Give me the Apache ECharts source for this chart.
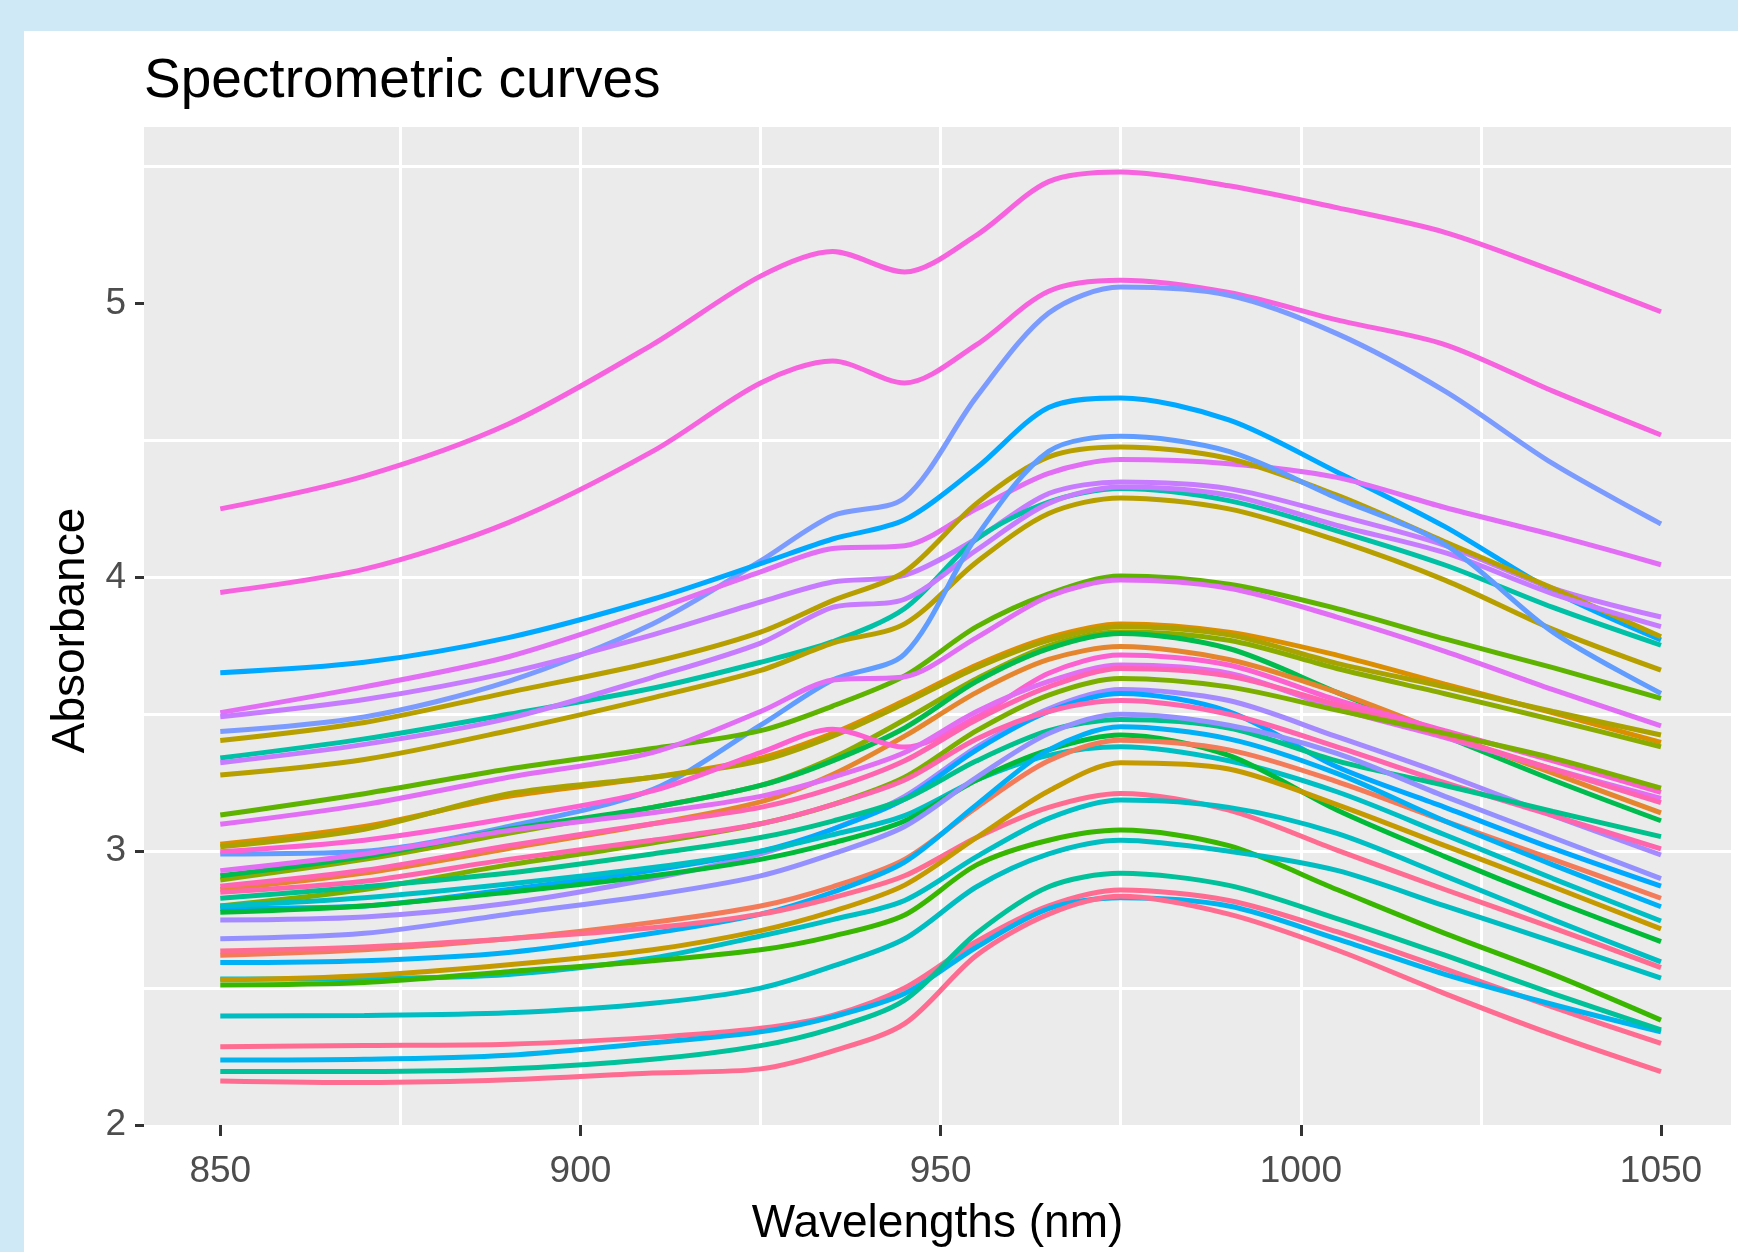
<!DOCTYPE html>
<html>
<head>
<meta charset="utf-8">
<title>Spectrometric curves</title>
<script src="https://cdn.jsdelivr.net/npm/echarts@6.0.0/dist/echarts.min.js"></script>
<style>
  html, body { margin: 0; padding: 0; }
  body { width: 1738px; height: 1252px; background: #cfe9f7; position: relative; overflow: hidden; }
  #chart { position: absolute; left: 24px; top: 31px; width: 1714px; height: 1221px; background: #fff; }
</style>
</head>
<body>
<div id="chart"></div>
<script>
const wavelengths = [850, 870, 890, 910, 925, 935, 945, 955, 965, 975, 990, 1005, 1020, 1035, 1050];
const xTicks = [850, 900, 950, 1000, 1050];
const yTicks = [2, 3, 4, 5];

// absorbance curves, top of the bundle first
const spec01 = [4.25, 4.37, 4.56, 4.85, 5.10, 5.19, 5.115, 5.25, 5.445, 5.48, 5.43, 5.35, 5.26, 5.12, 4.97];
const spec02 = [3.945, 4.03, 4.20, 4.46, 4.71, 4.79, 4.71, 4.85, 5.045, 5.085, 5.04, 4.94, 4.85, 4.68, 4.52];
const spec03 = [3.437, 3.49, 3.62, 3.83, 4.06, 4.225, 4.29, 4.66, 4.965, 5.06, 5.03, 4.89, 4.68, 4.415, 4.195];
const spec04 = [3.652, 3.69, 3.78, 3.92, 4.05, 4.14, 4.21, 4.40, 4.62, 4.655, 4.575, 4.385, 4.185, 3.95, 3.771];
const spec05 = [3.506, 3.60, 3.71, 3.88, 4.02, 4.105, 4.115, 4.25, 4.38, 4.43, 4.415, 4.365, 4.255, 4.155, 4.046];
const spec06 = [3.491, 3.554, 3.652, 3.79, 3.91, 3.983, 4.007, 4.141, 4.306, 4.348, 4.324, 4.227, 4.117, 3.96, 3.855];
const spec07 = [3.404, 3.47, 3.58, 3.69, 3.80, 3.915, 4.02, 4.27, 4.44, 4.476, 4.434, 4.30, 4.13, 3.96, 3.783];
const spec08 = [3.34, 3.41, 3.50, 3.595, 3.69, 3.765, 3.886, 4.14, 4.275, 4.324, 4.28, 4.17, 4.045, 3.89, 3.752];
const spec09 = [3.278, 3.335, 3.44, 3.56, 3.66, 3.76, 3.83, 4.056, 4.233, 4.29, 4.25, 4.135, 3.99, 3.81, 3.661];
const spec10 = [3.323, 3.39, 3.485, 3.635, 3.76, 3.89, 3.92, 4.10, 4.27, 4.33, 4.30, 4.19, 4.09, 3.94, 3.82];
const spec11 = [2.99, 3.0, 3.09, 3.225, 3.46, 3.625, 3.72, 4.15, 4.46, 4.515, 4.46, 4.29, 4.12, 3.80, 3.576];
const spec12 = [3.132, 3.21, 3.30, 3.375, 3.44, 3.53, 3.64, 3.82, 3.94, 4.005, 3.975, 3.886, 3.775, 3.67, 3.558];
const spec13 = [3.098, 3.17, 3.27, 3.36, 3.51, 3.625, 3.637, 3.78, 3.93, 3.99, 3.96, 3.855, 3.73, 3.59, 3.458];
const spec14 = [3.025, 3.09, 3.20, 3.27, 3.34, 3.43, 3.55, 3.68, 3.78, 3.83, 3.80, 3.716, 3.61, 3.505, 3.397];
const spec15 = [3.016, 3.08, 3.21, 3.27, 3.33, 3.42, 3.54, 3.67, 3.77, 3.82, 3.79, 3.686, 3.60, 3.51, 3.424];
const spec16 = [2.895, 2.97, 3.065, 3.16, 3.24, 3.34, 3.48, 3.63, 3.75, 3.80, 3.77, 3.667, 3.575, 3.48, 3.381];
const spec17 = [2.91, 2.98, 3.08, 3.16, 3.24, 3.33, 3.45, 3.62, 3.74, 3.795, 3.74, 3.58, 3.42, 3.26, 3.111];
const spec18 = [2.86, 2.92, 3.01, 3.10, 3.18, 3.28, 3.42, 3.58, 3.70, 3.747, 3.70, 3.58, 3.43, 3.285, 3.14];
const spec19 = [2.998, 3.04, 3.12, 3.22, 3.36, 3.445, 3.38, 3.49, 3.65, 3.716, 3.68, 3.552, 3.44, 3.33, 3.215];
const spec20 = [2.929, 2.99, 3.075, 3.14, 3.20, 3.27, 3.36, 3.51, 3.62, 3.68, 3.65, 3.521, 3.415, 3.30, 3.193];
const spec21 = [2.872, 2.93, 3.02, 3.10, 3.16, 3.23, 3.33, 3.48, 3.60, 3.667, 3.64, 3.535, 3.42, 3.30, 3.177];
const spec22 = [2.80, 2.86, 2.95, 3.03, 3.10, 3.17, 3.27, 3.44, 3.57, 3.631, 3.60, 3.515, 3.43, 3.34, 3.23];
const spec23 = [2.749, 2.76, 2.81, 2.90, 2.99, 3.08, 3.20, 3.38, 3.52, 3.59, 3.55, 3.418, 3.28, 3.13, 2.986];
const spec24 = [2.791, 2.80, 2.86, 2.93, 3.00, 3.08, 3.19, 3.37, 3.51, 3.576, 3.51, 3.308, 3.16, 3.01, 2.872];
const spec25 = [2.85, 2.89, 2.97, 3.04, 3.10, 3.17, 3.26, 3.41, 3.51, 3.55, 3.50, 3.381, 3.25, 3.13, 3.008];
const spec26 = [2.828, 2.87, 2.92, 2.99, 3.05, 3.11, 3.19, 3.33, 3.44, 3.481, 3.45, 3.33, 3.24, 3.145, 3.053];
const spec27 = [2.80, 2.83, 2.88, 2.94, 3.00, 3.06, 3.13, 3.26, 3.35, 3.381, 3.33, 3.217, 3.06, 2.90, 2.745];
const spec28 = [2.777, 2.80, 2.85, 2.91, 2.97, 3.03, 3.11, 3.26, 3.37, 3.424, 3.35, 3.15, 2.98, 2.82, 2.67];
const spec29 = [2.68, 2.70, 2.77, 2.84, 2.91, 2.99, 3.09, 3.27, 3.43, 3.50, 3.46, 3.357, 3.20, 3.05, 2.90];
const spec30 = [2.62, 2.64, 2.68, 2.74, 2.80, 2.87, 2.97, 3.16, 3.33, 3.405, 3.37, 3.254, 3.11, 2.97, 2.828];
const spec31 = [2.593, 2.60, 2.63, 2.70, 2.77, 2.85, 2.96, 3.17, 3.37, 3.454, 3.41, 3.284, 3.11, 2.95, 2.797];
const spec32 = [2.635, 2.65, 2.68, 2.72, 2.77, 2.83, 2.91, 3.05, 3.16, 3.211, 3.15, 3.004, 2.86, 2.72, 2.575];
const spec33 = [2.533, 2.535, 2.55, 2.61, 2.69, 2.75, 2.82, 2.98, 3.12, 3.187, 3.16, 3.065, 2.91, 2.75, 2.596];
const spec34 = [2.53, 2.545, 2.585, 2.64, 2.71, 2.78, 2.876, 3.05, 3.22, 3.323, 3.30, 3.17, 3.02, 2.87, 2.716];
const spec35 = [2.511, 2.52, 2.56, 2.60, 2.64, 2.69, 2.767, 2.95, 3.04, 3.077, 3.02, 2.86, 2.70, 2.55, 2.383];
const spec36 = [2.398, 2.40, 2.41, 2.445, 2.50, 2.58, 2.68, 2.87, 2.99, 3.04, 3.00, 2.93, 2.80, 2.67, 2.536];
const spec37 = [2.286, 2.29, 2.295, 2.32, 2.353, 2.40, 2.50, 2.67, 2.80, 2.858, 2.82, 2.706, 2.57, 2.43, 2.298];
const spec38 = [2.237, 2.24, 2.255, 2.30, 2.34, 2.395, 2.48, 2.65, 2.79, 2.83, 2.80, 2.68, 2.55, 2.44, 2.34];
const spec39 = [2.195, 2.195, 2.205, 2.24, 2.29, 2.353, 2.456, 2.70, 2.87, 2.919, 2.875, 2.754, 2.62, 2.48, 2.347];
const spec40 = [2.161, 2.155, 2.165, 2.19, 2.205, 2.27, 2.37, 2.62, 2.77, 2.835, 2.77, 2.639, 2.48, 2.33, 2.195];

const curveColors = [
  '#F763DF', '#F763DF', '#7C9BFF', '#00A9FF', '#E36EF6', '#C77CFF', '#B79F00', '#00C1A5',
  '#B79F00', '#C77CFF', '#619CFF', '#5EB300', '#E36EF6', '#DB8E00', '#A9A200', '#8AAB00',
  '#00BB4E', '#E5862F', '#FD61D1', '#E26EF4', '#FF64B0', '#7CAE00', '#A58AFF', '#00A9FF',
  '#FF65AC', '#00C08B', '#00BFC4', '#00BA38', '#9590FF', '#F37B59', '#00B0F6', '#FF6C91',
  '#00BFC4', '#C49A00', '#39B600', '#00BDC2', '#FF6C91', '#00B4EF', '#00C19A', '#FF6C91'
];

const curves = [
  spec01, spec02, spec03, spec04, spec05, spec06, spec07, spec08, spec09, spec10,
  spec11, spec12, spec13, spec14, spec15, spec16, spec17, spec18, spec19, spec20,
  spec21, spec22, spec23, spec24, spec25, spec26, spec27, spec28, spec29, spec30,
  spec31, spec32, spec33, spec34, spec35, spec36, spec37, spec38, spec39, spec40
];

const font = 'Liberation Sans, Arial, sans-serif';

const chart = echarts.init(document.getElementById('chart'));
chart.setOption({
  animation: false,
  title: {
    text: 'Spectrometric curves',
    left: 120,
    top: 23,
    padding: 0,
    textStyle: { fontFamily: font, fontSize: 55, fontWeight: 'normal', color: '#000' }
  },
  grid: {
    left: 120, top: 96, right: 7, bottom: 127,
    show: true, backgroundColor: '#ebebeb', borderWidth: 0
  },
  xAxis: {
    type: 'value',
    min: 839.41,
    max: 1059.72,
    splitNumber: 4,
    name: 'Wavelengths (nm)',
    nameLocation: 'middle',
    nameGap: 76,
    nameTextStyle: { fontFamily: font, fontSize: 46, color: '#000' },
    axisLine: { show: false, onZero: false },
    axisTick: { show: true, length: 11, customValues: xTicks, lineStyle: { color: '#333', width: 3 } },
    axisLabel: {
      customValues: xTicks, margin: 28, fontFamily: font, fontSize: 37, color: '#4d4d4d',
      formatter: function (v) { return String(v); }
    },
    splitLine: { show: true, showMinLine: false, showMaxLine: false, lineStyle: { color: '#fff', width: 3 } },
    minorTick: { show: false, splitNumber: 2 },
    minorSplitLine: { show: true, lineStyle: { color: '#fff', width: 3 } }
  },
  yAxis: {
    type: 'value',
    min: 2,
    max: 5.6446,
    interval: 1,
    name: 'Absorbance',
    nameLocation: 'middle',
    nameGap: 43,
    nameTextStyle: { fontFamily: font, fontSize: 46, color: '#000', padding: [0, 9, 0, 0] },
    axisLine: { show: false, onZero: false },
    axisTick: { show: true, length: 9, customValues: yTicks, lineStyle: { color: '#333', width: 3 } },
    axisLabel: {
      customValues: yTicks, margin: 18, fontFamily: font, fontSize: 37, color: '#4d4d4d',
      formatter: function (v) { return String(v); }
    },
    splitLine: { show: true, showMinLine: false, showMaxLine: false, lineStyle: { color: '#fff', width: 3 } },
    minorTick: { show: false, splitNumber: 2 },
    minorSplitLine: { show: true, lineStyle: { color: '#fff', width: 3 } }
  },
  series: curves.map(function (vals, i) {
    return {
      type: 'line',
      data: wavelengths.map(function (w, j) { return [w, vals[j]]; }),
      showSymbol: false,
      smooth: 0.3,
      silent: true,
      lineStyle: { color: curveColors[i], width: 5 },
      itemStyle: { color: curveColors[i] }
    };
  })
});
</script>
</body>
</html>
